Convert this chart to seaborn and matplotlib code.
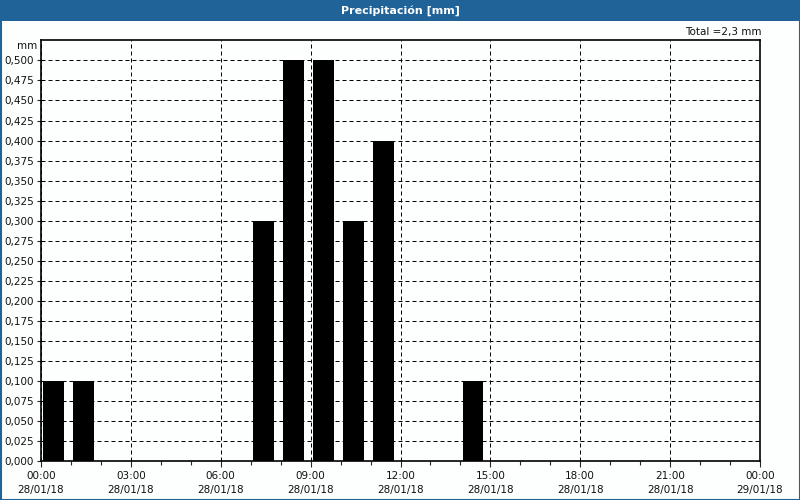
import numpy as np
import pandas as pd
import matplotlib
matplotlib.use("Agg")
import matplotlib.pyplot as plt
from matplotlib.ticker import FuncFormatter, MultipleLocator
from matplotlib.patches import Rectangle
import seaborn as sns

# Data
hours = [0, 1, 7, 8, 9, 10, 11, 14]
precip = [0.1, 0.1, 0.3, 0.5, 0.5, 0.3, 0.4, 0.1]
tick_hours = [0, 3, 6, 9, 12, 15, 18, 21, 24]
tick_labels = ["00:00\n28/01/18", "03:00\n28/01/18", "06:00\n28/01/18", "09:00\n28/01/18",
               "12:00\n28/01/18", "15:00\n28/01/18", "18:00\n28/01/18", "21:00\n28/01/18",
               "00:00\n29/01/18"]
y_ticks = [i * 0.025 for i in range(21)]
title = "Precipitación [mm]"
total_label = "Total =2,3 mm"

sns.set_style("white")
plt.rcParams['font.family'] = ['DejaVu Sans']

W, H = 800, 500
bg = "#fdfefe"
fig = plt.figure(figsize=(8, 5), dpi=100, facecolor=bg)
ax = fig.add_axes([41 / W, (H - 461) / H, 719 / W, 421 / H])
ax.set_facecolor(bg)

df = pd.DataFrame({"x": np.array(hours) + 0.42, "y": precip})
sns.barplot(data=df, x="x", y="y", native_scale=True, width=0.7, color="black",
            saturation=1, errorbar=None, ax=ax, edgecolor="black", linewidth=0)

ax.set_xlim(0, 24)
ax.set_ylim(0, 0.5255)
ax.set_xticks(tick_hours)
ax.set_xticklabels(tick_labels, fontsize=7.5, color="#111111", linespacing=1.55)
ax.xaxis.set_minor_locator(MultipleLocator(1))
ax.set_yticks(y_ticks)
ax.yaxis.set_major_formatter(FuncFormatter(lambda v, p: f"{v:.3f}".replace(".", ",")))
ax.tick_params(axis="y", labelsize=7.5, length=3, width=0.8, direction="out", left=True, pad=2,
               labelcolor="#111111")
ax.tick_params(axis="x", which="major", length=4, width=0.8, direction="out", bottom=True, pad=3)
ax.tick_params(axis="x", which="minor", length=3, width=0.8, direction="out", bottom=True)
ax.set_xlabel("")
ax.set_ylabel("")
ax.grid(True, which="major", color="black", linestyle=(0, (4, 3)), linewidth=0.72)
ax.set_axisbelow(True)
for s in ax.spines.values():
    s.set_visible(True)
    s.set_color("black")
    s.set_linewidth(1.2)

# Title bar
blue = "#1f6399"
fig.patches.append(Rectangle((0, 1 - 21 / H), 1, 21 / H, transform=fig.transFigure,
                             facecolor=blue, edgecolor="none", zorder=0))
fig.patches.append(Rectangle((0.5 / W, 0.5 / H), 1 - 1 / W, 1 - 1 / H, transform=fig.transFigure,
                             facecolor="none", edgecolor=blue, linewidth=1.5, zorder=5))
fig.text(0.5, 1 - 10.5 / H, title, ha="center", va="center", color="white",
         fontsize=8, fontweight="bold")
fig.text(762 / W, 1 - 32 / H, total_label, ha="right", va="center", fontsize=7.5, color="#111111")
fig.text(37 / W, 1 - 46 / H, "mm", ha="right", va="center", fontsize=7.5, color="#111111")

fig.savefig("out.png", dpi=100, facecolor=fig.get_facecolor())
